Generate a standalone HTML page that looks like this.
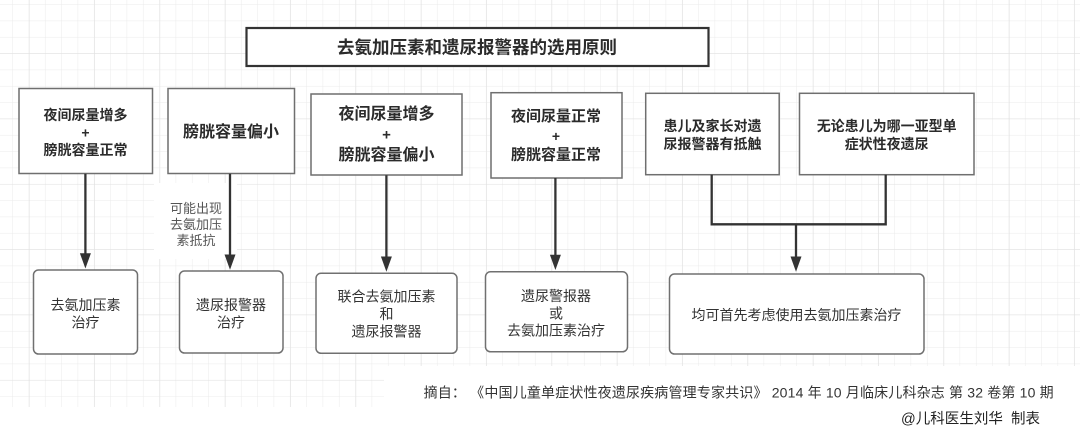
<!DOCTYPE html>
<html>
<head>
<meta charset="utf-8">
<style>
  html, body { margin:0; padding:0; background:#fff; }
  body { width:1080px; height:436px; overflow:hidden; }
  svg { display:block; }
  text { font-family: "Liberation Sans", "Noto Sans CJK SC", "WenQuanYi Zen Hei", sans-serif; }
  .b { font-weight:bold; fill:#2b2b2b; }
  .n { fill:#333; }
</style>
</head>
<body>
<svg width="1080" height="436" viewBox="0 0 1080 436" xmlns="http://www.w3.org/2000/svg">
  <defs>
    <pattern id="minor" x="12.3" y="4.3" width="16.333" height="16.333" patternUnits="userSpaceOnUse">
      <path d="M0 0 V16.333 M0 0 H16.333" stroke="#ebebeb" stroke-width="1" fill="none"/>
    </pattern>
    <pattern id="major" x="29" y="53.3" width="65.333" height="65.333" patternUnits="userSpaceOnUse">
      <path d="M0 0 V65.333 M0 0 H65.333" stroke="#e0e0e0" stroke-width="1" fill="none"/>
    </pattern>
  </defs>

  <rect x="0" y="0" width="1080" height="436" fill="#fff"/>
  <!-- grid area -->
  <path d="M0 0 H1080 V366 H384 V407 H0 Z" fill="url(#minor)"/>
  <path d="M0 0 H1080 V366 H384 V407 H0 Z" fill="url(#major)"/>
  <!-- label white background -->
  <rect x="154" y="183" width="83" height="76" fill="#fff"/>

  <!-- title -->
  <rect x="246.5" y="28" width="462" height="38" fill="#fff" stroke="#333" stroke-width="2.2"/>
  <text x="477" y="47.5" text-anchor="middle" dominant-baseline="central" font-size="17.5" class="b">去氨加压素和遗尿报警器的选用原则</text>

  <!-- top boxes -->
  <g fill="#fff" stroke="#6f6f6f" stroke-width="1.5">
    <rect x="19" y="88.5" width="133.5" height="85"/>
    <rect x="168" y="88.5" width="126.5" height="85"/>
    <rect x="311" y="94" width="151" height="81"/>
    <rect x="491" y="92.7" width="131" height="85.3"/>
    <rect x="645.7" y="93.3" width="133.5" height="81.4"/>
    <rect x="799.5" y="93.3" width="174.5" height="81.4"/>
  </g>

  <g text-anchor="middle" dominant-baseline="central">
    <text x="85.5" y="115" font-size="14" class="b">夜间尿量增多</text>
    <text x="85.5" y="132.7" font-size="14" class="b">+</text>
    <text x="85.5" y="150" font-size="14" class="b">膀胱容量正常</text>

    <text x="231" y="132.3" font-size="16" class="b">膀胱容量偏小</text>

    <text x="386.5" y="114.3" font-size="16" class="b">夜间尿量增多</text>
    <text x="386.5" y="135" font-size="15" class="b">+</text>
    <text x="386.5" y="155.7" font-size="16" class="b">膀胱容量偏小</text>

    <text x="556" y="116.7" font-size="15" class="b">夜间尿量正常</text>
    <text x="556" y="136" font-size="14" class="b">+</text>
    <text x="556" y="155" font-size="15" class="b">膀胱容量正常</text>

    <text x="712.5" y="126" font-size="14" class="b">患儿及家长对遗</text>
    <text x="712.5" y="144" font-size="14" class="b">尿报警器有抵触</text>

    <text x="886.7" y="126" font-size="14" class="b">无论患儿为哪一亚型单</text>
    <text x="886.7" y="144" font-size="14" class="b">症状性夜遗尿</text>
  </g>

  <!-- connectors -->
  <g stroke="#333" stroke-width="2.3" fill="none">
    <line x1="85.4" y1="173.7" x2="85.4" y2="256"/>
    <line x1="230" y1="173.7" x2="230" y2="257"/>
    <line x1="386.4" y1="175.3" x2="386.4" y2="259"/>
    <line x1="555.4" y1="178" x2="555.4" y2="257"/>
    <polyline points="711.7,174.7 711.7,224.3 885.7,224.3 885.7,174.7"/>
    <line x1="796" y1="224.3" x2="796" y2="259"/>
  </g>
  <g fill="#333">
    <polygon points="79.9,253.3 90.9,253.3 85.4,268.5"/>
    <polygon points="224.5,254.5 235.5,254.5 230,269.7"/>
    <polygon points="380.9,256.5 391.9,256.5 386.4,271.7"/>
    <polygon points="549.9,254.8 560.9,254.8 555.4,270"/>
    <polygon points="790.5,256.5 801.5,256.5 796,271.8"/>
  </g>

  <!-- connector label -->
  <g text-anchor="middle" dominant-baseline="central" font-size="13" fill="#555">
    <text x="196" y="208.5">可能出现</text>
    <text x="196" y="224.5">去氨加压</text>
    <text x="196" y="240.5">素抵抗</text>
  </g>

  <!-- bottom boxes -->
  <g fill="#fff" stroke="#707070" stroke-width="1.5">
    <rect x="33.5" y="270" width="104" height="84" rx="5"/>
    <rect x="179.5" y="271" width="103.5" height="82" rx="5"/>
    <rect x="316" y="273.3" width="141" height="80" rx="5"/>
    <rect x="485.5" y="271.8" width="142" height="80" rx="5"/>
    <rect x="669.5" y="274" width="254.5" height="80" rx="5"/>
  </g>
  <g text-anchor="middle" dominant-baseline="central" font-size="14" class="n">
    <text x="85.5" y="305">去氨加压素</text>
    <text x="85.5" y="322.7">治疗</text>

    <text x="231" y="305">遗尿报警器</text>
    <text x="231" y="322.7">治疗</text>

    <text x="386.5" y="296.7">联合去氨加压素</text>
    <text x="386.5" y="314">和</text>
    <text x="386.5" y="331.7">遗尿报警器</text>

    <text x="556" y="296">遗尿警报器</text>
    <text x="556" y="313.3">或</text>
    <text x="556" y="330.7">去氨加压素治疗</text>

    <text x="796.5" y="315">均可首先考虑使用去氨加压素治疗</text>
  </g>

  <!-- footer -->
  <text x="423.6" y="392.7" dominant-baseline="central" font-size="14" class="n" textLength="630" lengthAdjust="spacing">摘自：&#160;《中国儿童单症状性夜遗尿疾病管理专家共识》&#160;2014 年 10 月临床儿科杂志 第 32 卷第 10 期</text>
  <text x="901" y="419.3" dominant-baseline="central" font-size="14.5" fill="#222" textLength="139" lengthAdjust="spacing">@儿科医生刘华&#160;&#160;制表</text>
</svg>
</body>
</html>
